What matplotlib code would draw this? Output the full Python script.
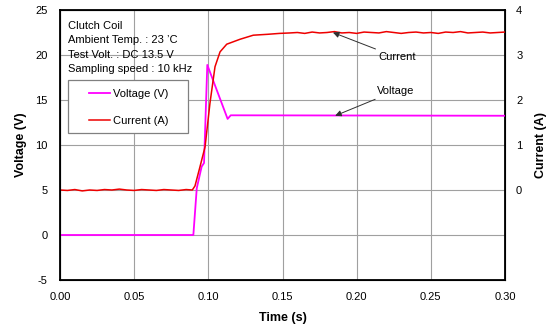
import matplotlib
matplotlib.use('Agg')
import matplotlib.pyplot as plt
from matplotlib.patches import Rectangle

plt.rcParams['font.family'] = ['Liberation Sans', 'DejaVu Sans']
plt.rcParams['axes.unicode_minus'] = False

# voltage trace (V)
volt_t = [0.0, 0.0899, 0.0922, 0.0955, 0.0971, 0.0993, 0.1130, 0.1151, 0.30]
volt_v = [0.0, 0.0, 5.2, 7.6, 8.0, 18.9, 12.9, 13.3, 13.25]

# current trace (A)
curr_t = [0.000, 0.005, 0.010, 0.015, 0.020, 0.025, 0.030, 0.035, 0.040, 0.045,
          0.050, 0.055, 0.060, 0.065, 0.070, 0.075, 0.080, 0.085, 0.0892,
          0.0910, 0.0944, 0.0978, 0.1011, 0.1045, 0.1079, 0.1124, 0.1214,
          0.1303, 0.140, 0.148, 0.155, 0.160, 0.165, 0.170, 0.175, 0.180,
          0.185, 0.190, 0.195, 0.200, 0.205, 0.210, 0.215, 0.220, 0.225,
          0.230, 0.235, 0.240, 0.245, 0.250, 0.255, 0.260, 0.265, 0.270,
          0.275, 0.280, 0.285, 0.290, 0.295, 0.300]
curr_a = [0.00, -0.01, 0.01, -0.02, 0.00, -0.01, 0.01, 0.00, 0.02, 0.00,
          -0.01, 0.01, 0.00, -0.01, 0.01, 0.00, -0.01, 0.01, 0.00,
          0.09, 0.52, 0.96, 1.93, 2.74, 3.07, 3.24, 3.35,
          3.44, 3.46, 3.48, 3.49, 3.50, 3.48, 3.51, 3.49, 3.50,
          3.52, 3.49, 3.50, 3.48, 3.51, 3.50, 3.49, 3.52, 3.50,
          3.48, 3.50, 3.51, 3.49, 3.50, 3.48, 3.51, 3.50, 3.52,
          3.49, 3.50, 3.51, 3.49, 3.50, 3.51]

x_ticks = [0.0, 0.05, 0.10, 0.15, 0.20, 0.25, 0.30]
v_ticks = [-5, 0, 5, 10, 15, 20, 25]
a_ticks = [0, 1, 2, 3, 4]

fig = plt.figure(figsize=(5.47, 3.32), dpi=100)
ax = fig.add_subplot(111)
fig.subplots_adjust(left=60/547, right=505/547, top=1-10/332, bottom=1-280/332)

ax.set_xlim(0, 0.30)
ax.set_ylim(-5, 25)
ax.set_xticks(x_ticks)
ax.set_xticklabels(['%.2f' % t for t in x_ticks])
ax.set_yticks(v_ticks)
ax.grid(True, color='#a0a0a0', linewidth=0.8)
ax.tick_params(length=0, labelsize=8, pad=9)
for s in ax.spines.values():
    s.set_linewidth(1.3)

ax2 = ax.twinx()
ax2.set_ylim(-2, 4)
ax2.set_yticks(a_ticks)
ax2.tick_params(length=0, labelsize=8, pad=8)

ln_v, = ax.plot(volt_t, volt_v, color='#ff00ff', linewidth=1.3, zorder=3)
ln_a, = ax2.plot(curr_t, curr_a, color='#ee0000', linewidth=1.1)

ax.set_xlabel('Time (s)', fontsize=9, fontweight='bold', labelpad=7)
ax.set_ylabel('Voltage (V)', fontsize=9, fontweight='bold', labelpad=6)
ax2.set_ylabel('Current (A)', fontsize=9, fontweight='bold', labelpad=9)

info = 'Clutch Coil\nAmbient Temp. : 23 \u2019C\nTest Volt. : DC 13.5 V\nSampling speed : 10 kHz'
ax2.text(0.018, 0.96, info, transform=ax2.transAxes, fontsize=8, va='top',
         ha='left', linespacing=1.55)

# legend box drawn as a plain frame, entries placed inside it
ax2.add_patch(Rectangle((0.0173, 0.5456), 0.2707, 0.1951, transform=ax2.transAxes,
                        facecolor='white', edgecolor='#808080', linewidth=0.9,
                        zorder=4))
leg = ax2.legend([ln_v, ln_a], ['Voltage (V)', 'Current (A)'], loc='upper left',
                 bbox_to_anchor=(0.065, 0.706), fontsize=8, frameon=False,
                 handlelength=1.9, labelspacing=1.5, borderpad=0,
                 handletextpad=0.25, borderaxespad=0)
leg.set_zorder(5)

ax2.annotate('Current', xy=(0.184, 3.5), xytext=(0.2145, 2.95), fontsize=8,
             ha='left', va='center',
             arrowprops=dict(arrowstyle='-|>', color='#303030', lw=0.7,
                             mutation_scale=9, shrinkA=1, shrinkB=0))
ax.annotate('Voltage', xy=(0.1855, 13.25), xytext=(0.2135, 16.0), fontsize=8,
            ha='left', va='center',
            arrowprops=dict(arrowstyle='-|>', color='#303030', lw=0.7,
                            mutation_scale=9, shrinkA=1, shrinkB=0))

plt.savefig('out.png', dpi=100)
